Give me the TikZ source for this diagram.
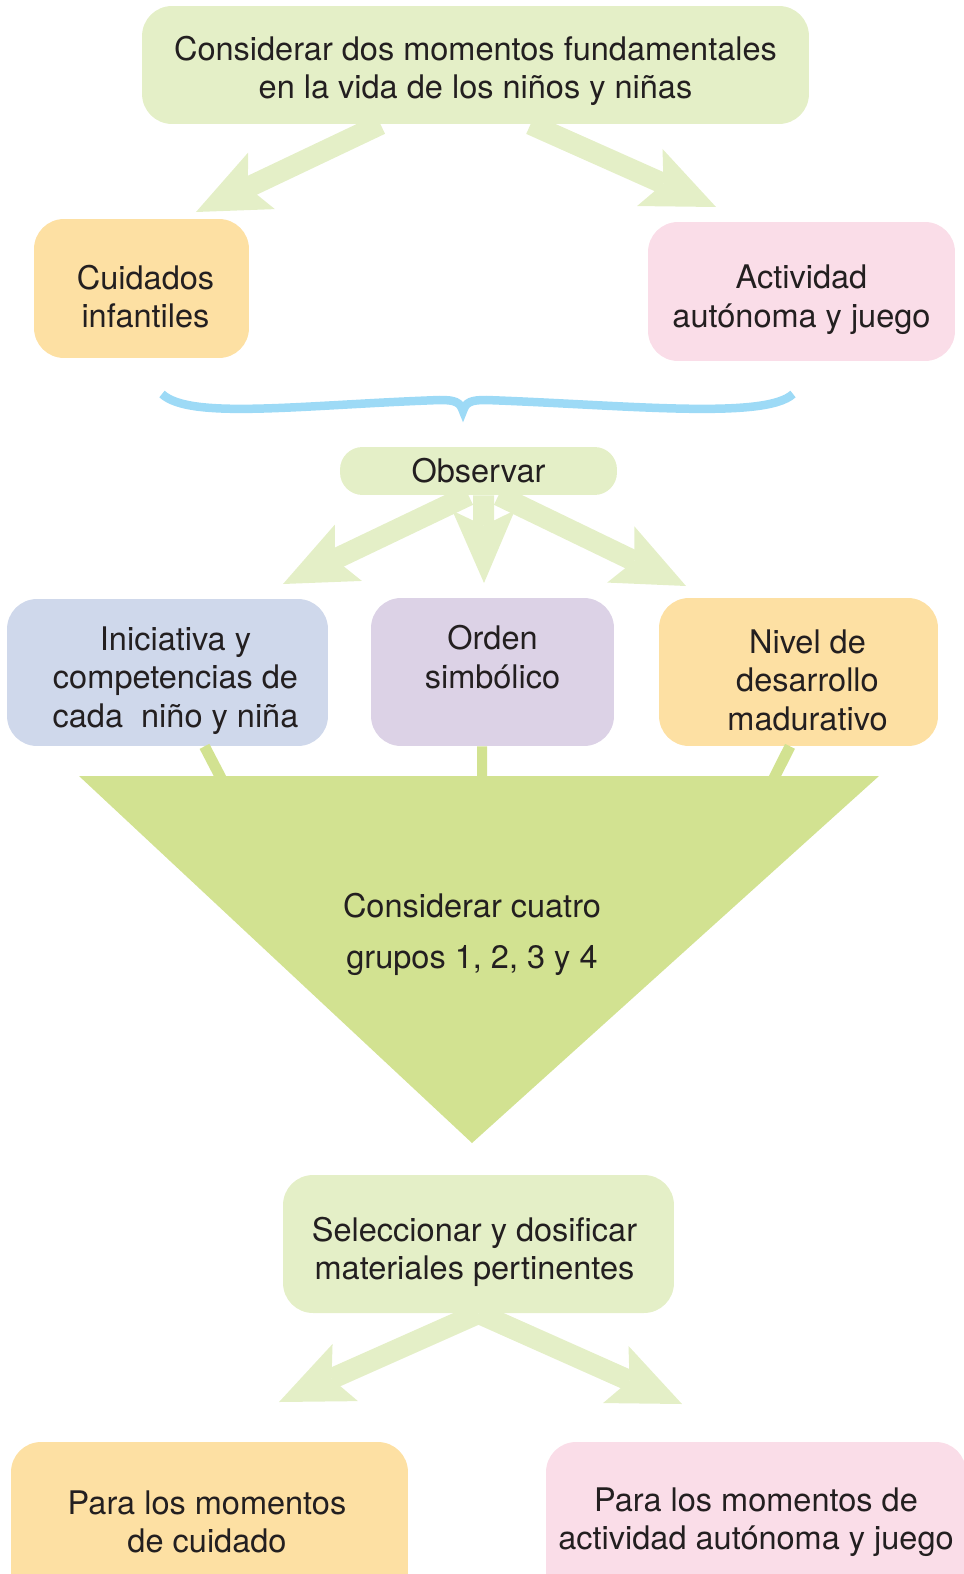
\documentclass[tikz,border=0pt]{standalone}
\usepackage{fontspec}
\setmainfont{TeX Gyre Heros}
\usetikzlibrary{arrows.meta}
\definecolor{ink}{HTML}{231F20}
\definecolor{leaf}{HTML}{E4EFC7}
\definecolor{peach}{HTML}{FDE0A3}
\definecolor{rose}{HTML}{FADDE8}
\definecolor{sky}{HTML}{CFD8EB}
\definecolor{lilac}{HTML}{DCD2E6}
\definecolor{lime}{HTML}{D2E291}
\definecolor{bracecol}{HTML}{9DDAF6}
\tikzset{
  box/.style={rounded corners=0.6cm, inner sep=0pt},
  txt/.style={align=center, text=ink, inner sep=0pt,
    font=\fontsize{18.5}{21.9}\selectfont},
  sunk/.style={txt, yshift=-0.16cm},
  flow/.style={draw=leaf, line width=0.42cm,
    -{Stealth[length=1.45cm,width=1.25cm,inset=0.3cm,line width=0pt]}},
  stub/.style={draw=lime, line width=0.22cm},
  curly/.style={draw=bracecol, line width=0.17cm},
}

\begin{document}
\begin{tikzpicture}[x=0.02cm,y=-0.02cm]
  \useasboundingbox (0,0) rectangle (963,1574);
  % boxes
  \node[box, fill=leaf, minimum width=13.34cm, minimum height=2.36cm,
    label={[sunk, yshift=0.04cm]center:{Considerar dos momentos fundamentales\\en la vida de los niños y niñas}}]
    (top) at (475.5,65) {};
  \node[box, fill=peach, minimum width=4.3cm, minimum height=2.78cm,
    label={[sunk, xshift=0.08cm]center:{Cuidados\\infantiles}}] (cuid) at (141.5,288.5) {};
  \node[box, fill=rose, minimum width=6.14cm, minimum height=2.78cm,
    label={[sunk]center:{Actividad\\autónoma y juego}}] (activ) at (801.5,291.5) {};
  \node[box, fill=leaf, rounded corners=0.45cm, minimum width=5.54cm, minimum height=0.96cm,
    label={[txt]center:Observar}] (obs) at (478.5,471) {};
  \node[box, fill=sky, minimum width=6.42cm, minimum height=2.94cm,
    label={[sunk, xshift=0.16cm]center:{Iniciativa y\\competencias de\\cada~ niño y niña}}]
    (inic) at (167.5,672.5) {};
  \node[box, fill=lilac, minimum width=4.86cm, minimum height=2.96cm,
    label={[txt, yshift=0.3cm]center:{Orden\\simbólico}}] (orden) at (492.5,672) {};
  \node[box, fill=peach, minimum width=5.58cm, minimum height=2.96cm,
    label={[sunk, xshift=0.18cm]center:{Nivel de\\desarrollo\\madurativo}}] (nivel) at (798.5,672) {};
  \node[box, fill=leaf, minimum width=7.82cm, minimum height=2.76cm,
    label={[sunk, xshift=-0.08cm]center:{Seleccionar y dosificar\\materiales pertinentes}}]
    (sel) at (478.5,1244) {};
  \node[box, fill=peach, minimum width=7.94cm, minimum height=3.2cm] (paracuid) at (209.5,1522) {};
  \node[box, fill=rose, minimum width=8.4cm, minimum height=3.2cm] (paraact) at (756,1522) {};
  \node[txt] at (207,1522) {Para los momentos\\de cuidado};
  \node[txt] at (756,1522) {Para los momentos de\\actividad autónoma y juego};

  % arrow tips
  \coordinate (t1) at (196,212);
  \coordinate (t2) at (716,207);
  \coordinate (o1) at (283,584);
  \coordinate (o2) at (484,583);
  \coordinate (o3) at (686,586);
  \coordinate (s1) at (279,1402);
  \coordinate (s2) at (682,1404);
  \draw[flow] ([xshift=-1.9cm]top.south) -- (t1);
  \draw[flow] ([xshift=1.1cm]top.south) -- (t2);
  \draw[flow] ([xshift=-0.2cm]obs.south) -- (o1);
  \draw[flow] ([xshift=0.1cm]obs.south) -- (o2);
  \draw[flow] ([xshift=0.4cm]obs.south) -- (o3);
  \draw[flow] (sel.south) -- (s1);
  \draw[flow] (sel.south) -- (s2);

  % brace
  \draw[curly] (162,394) .. controls (190,420) and (300,405) .. (440,400)
    .. controls (455,400) and (460,402) .. (463,411)
    .. controls (466,402) and (471,400) .. (486,400)
    .. controls (626,405) and (765,420) .. (793,394);

  % funnel
  \coordinate (f1) at (222,780);
  \coordinate (f2) at (482,780);
  \coordinate (f3) at (773,780);
  \draw[stub] ([xshift=0.74cm]inic.south) -- (f1);
  \draw[stub, line width=0.2cm] ([xshift=-0.21cm]orden.south) -- (f2);
  \draw[stub] ([xshift=-0.17cm]nivel.south) -- (f3);
  \fill[lime] (79,776) -- (879,776) -- (472,1143) -- cycle;
  \node[txt, font=\fontsize{18.5}{29}\selectfont] (grupos) at (472,934)
    {Considerar cuatro\\ grupos 1, 2, 3 y 4};
\end{tikzpicture}
\end{document}
